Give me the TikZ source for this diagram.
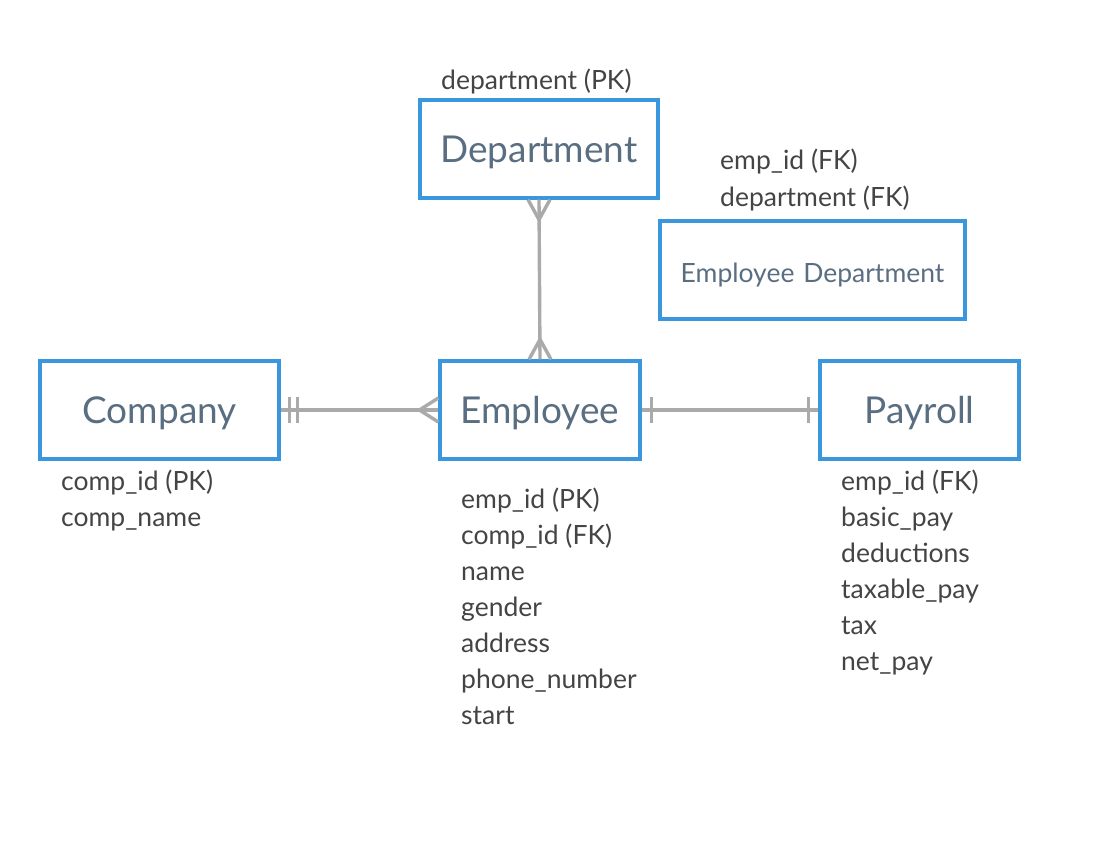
\documentclass[tikz,border=0pt]{standalone}
\usepackage{fontspec}
\setmainfont{Lato}
\usetikzlibrary{calc}
\definecolor{eblue}{HTML}{3A96DD}
\definecolor{tblue}{HTML}{5A6E82}
\definecolor{tgray}{HTML}{444444}
\definecolor{lgray}{HTML}{AAAAAA}
\begin{document}
\begin{tikzpicture}[x=1pt,y=-1pt,
  entity/.style={draw=eblue, line width=3.2pt, inner sep=0pt, text=tblue,
    font=\fontsize{37}{44}\selectfont, text height=30pt, text depth=4pt},
  small entity/.style={font=\fontsize{26.5}{32}\selectfont, text height=24pt, text depth=0pt},
  attr/.style={anchor=base west, inner sep=0pt, text=tgray, font=\fontsize{26.5}{32}\selectfont},
  conn/.style={draw=lgray, line width=3.4pt, line join=round}]
\useasboundingbox[fill=white] (0,0) rectangle (1100,864);

\node[entity, minimum width=238pt, minimum height=98pt] (dept) at (539,149) {Department};
\node[entity, small entity, minimum width=305pt, minimum height=98pt] (ed) at (812.5,270) {Employee\,\,Department};
\node[entity, minimum width=239pt, minimum height=98pt] (comp) at (159.5,410) {Company};
\node[entity, minimum width=200pt, minimum height=98pt] (emp) at (540,410) {Employee};
\node[entity, minimum width=199pt, minimum height=98pt] (pay) at (919.5,410) {Payroll};

\node[attr] (a1) at (441,90) {department (PK)};
\node[attr] (a2) at (720,169) {emp\_id (FK)};
\node[attr] (a3) at (720,206) {department (FK)};

\node[attr] (c1) at (61,490) {comp\_id (PK)};
\node[attr] (c2) at (61,526) {comp\_name};

\node[attr] (e1) at (461,508) {emp\_id (PK)};
\node[attr] (e2) at (461,544) {comp\_id (FK)};
\node[attr] (e3) at (461,580) {name};
\node[attr] (e4) at (461,616) {gender};
\node[attr] (e5) at (461,652) {address};
\node[attr] (e6) at (461,688) {phone\_number};
\node[attr] (e7) at (461,724) {start};

\node[attr] (p1) at (841,490) {emp\_id (FK)};
\node[attr] (p2) at (841,526) {basic\_pay};
\node[attr] (p3) at (841,562) {deductions};
\node[attr] (p4) at (841,598) {taxable\_pay};
\node[attr] (p5) at (841,634) {tax};
\node[attr] (p6) at (841,670) {net\_pay};

% Department - Employee (many to many)
\draw[conn] (dept.south) -- (emp.north);
\draw[conn] ($(dept.south)+(-11,0)$) -- ($(dept.south)+(0,20)$) -- ($(dept.south)+(11,0)$);
\draw[conn] ($(emp.north)+(-11,0)$) -- ($(emp.north)+(0,-20)$) -- ($(emp.north)+(11,0)$);

% Company - Employee
\draw[conn] (comp.east) -- (emp.west);
\draw[conn] ($(comp.east)+(9,-13)$) -- ($(comp.east)+(9,13)$);
\draw[conn] ($(comp.east)+(17,-13)$) -- ($(comp.east)+(17,13)$);
\draw[conn] ($(emp.west)+(0,-12)$) -- ($(emp.west)+(-19,0)$) -- ($(emp.west)+(0,12)$);

% Employee - Payroll
\draw[conn] (emp.east) -- (pay.west);
\draw[conn] ($(emp.east)+(10,-13)$) -- ($(emp.east)+(10,13)$);
\draw[conn] ($(pay.west)+(-10,-13)$) -- ($(pay.west)+(-10,13)$);
\end{tikzpicture}
\end{document}
